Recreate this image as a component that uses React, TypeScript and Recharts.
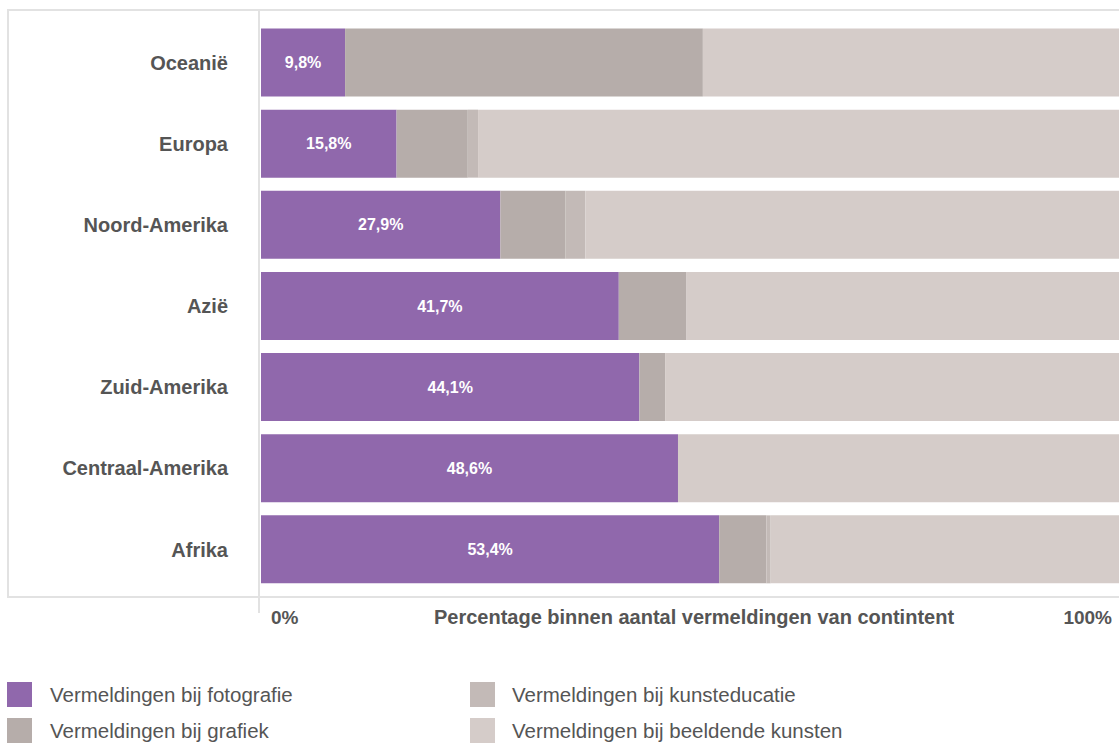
import React from 'react';
import { BarChart, Bar, XAxis, YAxis, LabelList, Label } from 'recharts';

const categories = ['Oceanië', 'Europa', 'Noord-Amerika', 'Azië', 'Zuid-Amerika', 'Centraal-Amerika', 'Afrika'];
const fotografie = [9.8, 15.8, 27.9, 41.7, 44.1, 48.6, 53.4];
const grafiek = [41.7, 8.3, 7.6, 7.9, 3.0, 0, 5.5];
const kunsteducatie = [0, 1.2, 2.3, 0, 0, 0, 0.5];
const beeldendeKunsten = [48.5, 74.7, 62.2, 50.4, 52.9, 51.4, 40.6];
const xTicks = [0, 100];

const series = [
  { key: 'fotografie', name: 'Vermeldingen bij fotografie', color: '#9068AC' },
  { key: 'grafiek', name: 'Vermeldingen bij grafiek', color: '#B6ADAA' },
  { key: 'kunsteducatie', name: 'Vermeldingen bij kunsteducatie', color: '#C3BAB7' },
  { key: 'beeldende', name: 'Vermeldingen bij beeldende kunsten', color: '#D5CCC9' },
];

const data = categories.map((name, i) => ({
  name,
  fotografie: fotografie[i],
  grafiek: grafiek[i],
  kunsteducatie: kunsteducatie[i],
  beeldende: beeldendeKunsten[i],
}));

const FONT = '"Liberation Sans", Arial, sans-serif';
const TEXT = '#555555';

const XTick = (props: any) => {
  const { x, y, payload } = props;
  const first = payload.value === 0;
  return (
    <text
      x={first ? x + 10 : x + 5}
      y={y}
      dy={34}
      textAnchor={first ? 'start' : 'end'}
      fill={TEXT}
      fontFamily={FONT}
      fontWeight="bold"
      fontSize={19}
    >
      {payload.value}%
    </text>
  );
};

const App: React.FC = () => {
  return (
    <div style={{ position: 'absolute', left: 0, top: 0, width: 1119, height: 744, fontFamily: FONT }}>
      {/* frame */}
      <div style={{ position: 'absolute', left: 7, top: 9, width: 1120, height: 589, border: '2px solid #e2e2e2', boxSizing: 'border-box' }} />
      <div style={{ position: 'absolute', left: 258, top: 9, width: 2, height: 604, background: '#e2e2e2' }} />
      <div style={{ position: 'absolute', left: 0, top: 0 }}>
        <BarChart
          width={1119}
          height={644}
          data={data}
          layout="vertical"
          margin={{ top: 22, right: 0, bottom: 0, left: 1 }}
          barCategoryGap="8%"
        >
          <XAxis
            type="number"
            domain={[0, 100]}
            ticks={xTicks}
            axisLine={false}
            tickLine={false}
            tickSize={0}
            tickMargin={0}
            height={54}
            tick={<XTick />}
            allowDataOverflow
          >
            <Label
              value="Percentage binnen aantal vermeldingen van contintent"
              position="center"
              dx={4}
              fill={TEXT}
              fontFamily={FONT}
              fontWeight="bold"
              fontSize={20}
            />
          </XAxis>
          <YAxis
            type="category"
            dataKey="name"
            width={260}
            axisLine={false}
            tickLine={false}
            tickSize={0}
            tickMargin={33}
            tick={{ fill: TEXT, fontFamily: FONT, fontWeight: 'bold', fontSize: 20 }}
          />
          {series.map((s) => (
            <Bar key={s.key} dataKey={s.key} name={s.name} stackId="a" fill={s.color} isAnimationActive={false}>
              {s.key === 'fotografie' && (
                <LabelList
                  dataKey="fotografie"
                  position="center"
                  formatter={(v: any) => `${Number(v).toFixed(1).replace('.', ',')}%`}
                  fill="#ffffff"
                  fontFamily={FONT}
                  fontWeight="bold"
                  fontSize={16}
                />
              )}
            </Bar>
          ))}
        </BarChart>
      </div>
      {/* legend */}
      {series.map((s, i) => {
        const col = i < 2 ? 0 : 1;
        const row = i % 2;
        const left = col === 0 ? 7 : 470;
        const top = 682 + row * 36;
        return (
          <div key={s.key} style={{ position: 'absolute', left, top, display: 'flex', alignItems: 'center', height: 25 }}>
            <div style={{ width: 25, height: 25, background: s.color }} />
            <span style={{ marginLeft: col === 0 ? 18 : 17, fontSize: 20.5, color: TEXT, whiteSpace: 'nowrap' }}>{s.name}</span>
          </div>
        );
      })}
    </div>
  );
};

export default App;
